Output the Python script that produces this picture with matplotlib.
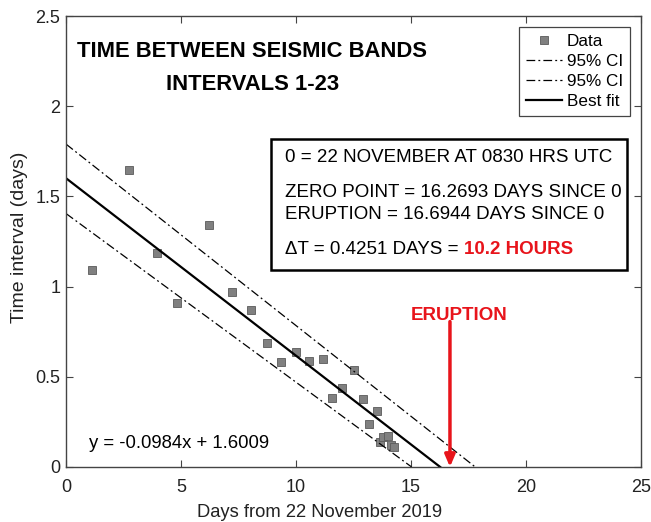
import numpy as np
import matplotlib
matplotlib.use("Agg")
import matplotlib.pyplot as plt

plt.rcParams['font.family'] = ['Liberation Sans', 'DejaVu Sans']

# interval start (days from 0) and time to next band (days)
days = [1.12, 2.75, 3.94, 4.84, 6.22, 7.20, 8.04, 8.74, 9.35, 10.00, 10.57, 11.17,
        11.57, 12.00, 12.54, 12.93, 13.19, 13.51, 13.65, 13.80, 14.01, 14.12, 14.27]
interval = [1.094, 1.644, 1.185, 0.907, 1.344, 0.972, 0.868, 0.689, 0.583, 0.639, 0.588, 0.597,
            0.381, 0.436, 0.535, 0.376, 0.241, 0.311, 0.141, 0.167, 0.172, 0.122, 0.109]

# linear fit and confidence bounds (slope, intercept)
fit = (-0.0984, 1.6009)
ci_upper = (-0.1006, 1.79)
ci_lower = (-0.0935, 1.405)

zero_point = 16.2693
eruption = 16.6944


def line_pts(coef):
    m, b = coef
    x = np.array([0.0, -b / m])
    return x, m * x + b


fig = plt.figure(figsize=(6.51, 5.22), dpi=100)
ax = fig.add_axes([0.1014, 0.1054, 0.8832, 0.8639])

ax.plot(days, interval, 's', color='#808080', mec='#5a5a5a', mew=0.6, ms=6, label='Data')
x, y = line_pts(ci_upper)
ax.plot(x, y, color='k', lw=0.9, ls=(0, (7, 2.5, 1.5, 2.5)), label='95% CI')
x, y = line_pts(ci_lower)
ax.plot(x, y, color='k', lw=0.9, ls=(0, (7, 2.5, 1.5, 2.5)), label='95% CI')
x, y = line_pts(fit)
ax.plot(x, y, color='k', lw=1.6, label='Best fit')

ax.set_xlim(0, 25)
ax.set_ylim(0, 2.5)
ax.set_xticks([0, 5, 10, 15, 20, 25])
ax.set_yticks([0, 0.5, 1, 1.5, 2, 2.5])
ax.set_xticklabels(['0', '5', '10', '15', '20', '25'])
ax.set_yticklabels(['0', '0.5', '1', '1.5', '2', '2.5'])
ax.tick_params(direction='in', top=True, right=True, length=5, width=0.8,
               colors='#444444', labelsize=13, labelcolor='#222222')
ax.tick_params(axis='x', pad=9)
ax.tick_params(axis='y', pad=4)
for s in ax.spines.values():
    s.set_color('#444444')
    s.set_linewidth(1.0)

ax.set_xlabel('Days from 22 November 2019', fontsize=13.2, color='#222222')
ax.xaxis.set_label_coords(254 / 575, -0.082)
ax.set_ylabel('Time interval (days)', fontsize=14, color='#222222')
ax.yaxis.set_label_coords(-0.066, 0.51)

leg = ax.legend(loc='upper right', bbox_to_anchor=(0.981, 0.976), borderaxespad=0,
                fontsize=12.3, handlelength=2.1, handletextpad=0.3, borderpad=0.4,
                labelspacing=0.3, fancybox=False, framealpha=1, edgecolor='#444444')
leg.get_frame().set_linewidth(0.9)

# title inside the axes
ax.text(8.1, 2.272, 'TIME BETWEEN SEISMIC BANDS', ha='center', va='baseline',
        fontsize=15.8, fontweight='bold')
ax.text(8.1, 2.089, 'INTERVALS 1-23', ha='center', va='baseline',
        fontsize=15.8, fontweight='bold')

# info box
ax.add_patch(plt.Rectangle((8.9, 1.094), 24.38 - 8.9, 1.817 - 1.094, fill=False,
                           ec='k', lw=1.8, zorder=5))
ax.text(9.52, 1.689, '0 = 22 NOVEMBER AT 0830 HRS UTC', fontsize=13.5, va='baseline')
ax.text(9.52, 1.494, 'ZERO POINT = %.4f DAYS SINCE 0' % zero_point, fontsize=13.5, va='baseline')
ax.text(9.52, 1.372, 'ERUPTION = %.4f DAYS SINCE 0' % eruption, fontsize=13.5, va='baseline')
t = ax.text(9.52, 1.183, '\u0394T = %.4f DAYS = ' % (eruption - zero_point),
            fontsize=13.5, va='baseline')
fig.canvas.draw()
bb = t.get_window_extent().transformed(ax.transData.inverted())
ax.text(bb.x1, 1.183, '%.1f HOURS' % ((eruption - zero_point) * 24), fontsize=13.5,
        va='baseline', color='#e8141b', fontweight='bold')

# eruption marker
ax.annotate('', xy=(eruption, 0.0), xytext=(eruption, 0.806),
            arrowprops=dict(arrowstyle='-|>,head_length=0.7,head_width=0.3',
                            color='#e8141b', lw=2.5, shrinkA=0, shrinkB=0))
ax.text(17.1, 0.817, 'ERUPTION', ha='center', va='baseline', fontsize=13.5,
        fontweight='bold', color='#e8141b')

ax.text(1.0, 0.105, 'y = %.4fx + %.4f' % fit, fontsize=13.3, va='baseline')

fig.savefig('out.png', dpi=100)
